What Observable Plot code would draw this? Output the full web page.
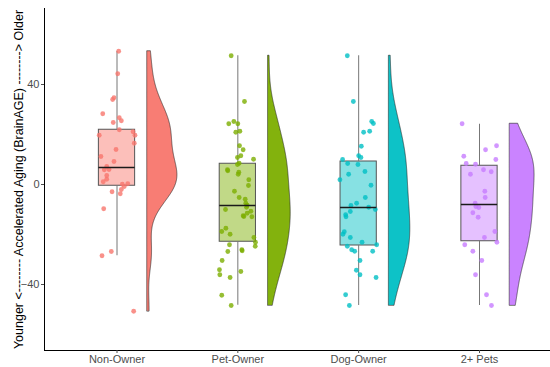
<!DOCTYPE html>
<html>
<head>
<meta charset="utf-8">
<script src="https://cdn.jsdelivr.net/npm/d3@7"></script>
<script src="https://cdn.jsdelivr.net/npm/@observablehq/plot@0.6"></script>
<style>
  html, body { margin: 0; padding: 0; background: #fff; }
  #chart svg { display: block; }
</style>
</head>
<body>
<div id="chart"></div>
<script>
const categories = ["Non-Owner", "Pet-Owner", "Dog-Owner", "2+ Pets"];
const colors = ["#F8766D", "#7CAE00", "#00BFC4", "#C77CFF"];
const yTicks = [-40, 0, 40];
const yLabel = "Younger <-------- Accelerated Aging (BrainAGE) --------> Older";

// BrainAGE values per group and horizontal jitter (category units)
const nonOwner = [53.3, 44.3, 34.7, 34.0, 28.3, 26.7, 25.5, 24.8, 21.9, 21.1, 19.7, 19.7, 16.5, 14.0, 11.2, 9.2, 7.2, 5.9, 6.0, 3.6, 2.1, 1.1, 0.1, 0.3, -0.8, -2.0, -2.9, -3.7, -9.7, -26.8, -28.5, -50.7];
const nonOwnerJitter = [0.014, 0.006, -0.025, -0.036, -0.118, 0.019, 0.036, -0.031, 0.019, 0.133, 0.149, -0.147, 0.143, -0.008, -0.133, -0.025, -0.085, -0.105, -0.066, -0.085, -0.085, -0.114, 0.044, 0.089, 0.060, 0.036, -0.041, 0.027, -0.110, -0.047, -0.124, 0.138];

const petOwner = [51.5, 33.2, 25.2, 24.3, 24.3, 20.9, 21.3, 15.5, 13.9, 11.5, 10.8, 10.1, 8.5, 8.0, 5.9, 5.5, 4.9, 4.1, 1.9, -0.4, -2.7, -5.2, -5.9, -7.5, -8.3, -9.1, -10.0, -10.7, -11.5, -12.5, -12.8, -12.9, -17.5, -18.8, -19.9, -21.2, -23.1, -24.7, -24.1, -26.1, -26.5, -26.8, -30.4, -34.1, -36.1, -34.8, -37.2, -44.3, -48.4];
const petOwnerJitter = [-0.055, 0.055, -0.033, -0.075, 0.000, -0.017, 0.017, 0.014, 0.044, 0.025, -0.003, 0.130, 0.011, -0.003, -0.086, -0.083, 0.008, 0.003, 0.091, 0.088, -0.028, 0.011, 0.061, 0.066, 0.077, 0.072, -0.102, 0.108, 0.077, 0.044, 0.050, 0.116, -0.099, -0.133, -0.064, 0.133, 0.146, 0.144, -0.069, 0.033, 0.036, -0.083, -0.130, -0.152, -0.149, 0.025, -0.064, -0.133, -0.055];

const dogOwner = [51.5, 33.2, 25.2, 24.4, 20.9, 21.3, 15.3, 11.5, 10.8, 10.0, 8.4, 8.0, 5.2, 4.1, 1.9, -0.3, -5.2, -7.5, -8.4, -9.1, -10.0, -10.8, -12.1, -12.9, -18.9, -19.9, -21.2, -23.1, -24.1, -24.7, -26.1, -26.7, -26.7, -30.4, -34.3, -36.1, -37.2, -44.1, -48.4];
const dogOwnerJitter = [-0.094, -0.044, 0.108, 0.122, 0.041, 0.091, 0.022, 0.000, 0.019, -0.133, -0.091, -0.006, 0.052, -0.083, -0.155, 0.102, 0.055, -0.017, -0.064, 0.083, 0.138, -0.069, -0.108, -0.105, -0.119, -0.130, -0.069, 0.028, 0.149, -0.094, -0.058, -0.033, 0.116, 0.011, -0.019, 0.011, 0.144, -0.108, -0.077];

const multiPet = [24.3, 15.5, 13.9, 11.3, 10.0, 8.4, 8.1, 5.9, 5.1, 4.1, -2.7, -5.2, -7.5, -8.8, -9.2, -11.3, -13.1, -18.8, -21.2, -23.1, -24.1, -26.7, -30.4, -36.1, -44.1, -48.4];
const multiPetJitter = [-0.144, 0.141, 0.050, -0.130, 0.135, -0.110, -0.033, 0.033, 0.097, -0.075, 0.044, 0.047, -0.036, -0.030, -0.006, -0.055, -0.011, 0.127, 0.041, 0.144, -0.122, -0.055, 0.019, -0.033, 0.058, 0.099];

// Box-plot summaries
const q1 = [-0.5, -22.9, -24.4, -22.7];
const median = [6.8, -8.4, -9.2, -8.0];
const q3 = [21.9, 8.3, 9.2, 7.5];
const whiskerLow = [-28.5, -48.3, -48.4, -48.4];
const whiskerHigh = [53.3, 51.5, 51.5, 24.1];

// ---- build tables ----
const groupValues = [nonOwner, petOwner, dogOwner, multiPet];
const groupJitter = [nonOwnerJitter, petOwnerJitter, dogOwnerJitter, multiPetJitter];

const points = [];
groupValues.forEach((vals, g) => vals.forEach((v, i) => points.push({g, x: g + 1 + groupJitter[g][i], y: v})));

const boxes = categories.map((c, g) => ({g, pos: g + 1, q1: q1[g], med: median[g], q3: q3[g], lo: whiskerLow[g], hi: whiskerHigh[g]}));

// flat violin: Gaussian KDE with R's bw.nrd0, trimmed to data range, area-scaled
function bwNrd0(v) {
  const sd = d3.deviation(v);
  const iqr = d3.quantile(v, 0.75) - d3.quantile(v, 0.25);
  const lo = Math.min(sd, iqr / 1.34);
  return 0.9 * lo * Math.pow(v.length, -0.2);
}
const violinRaw = groupValues.map((vals, g) => {
  const bw = bwNrd0(vals);
  const [mn, mx] = d3.extent(vals);
  const n = 512, out = [];
  for (let k = 0; k < n; k++) {
    const y = mn + (mx - mn) * k / (n - 1);
    let s = 0;
    for (const xi of vals) { const u = (y - xi) / bw; s += Math.exp(-0.5 * u * u); }
    out.push({g, y, d: s / (vals.length * bw * Math.sqrt(2 * Math.PI))});
  }
  return out;
});
const maxD = d3.max(violinRaw.flat(), d => d.d);
const nudge = 0.25, halfWidth = 0.25;
const violin = violinRaw.flat().map(d => ({g: d.g, y: d.y, x1: d.g + 1 + nudge, x2: d.g + 1 + nudge + halfWidth * d.d / maxD}));

const yMin = -66.4, yMax = 70.4;

const plot = Plot.plot({
  width: 550,
  height: 367,
  marginLeft: 44,
  marginRight: 0,
  marginTop: 8,
  marginBottom: 17,
  style: {fontFamily: "'Liberation Sans', Arial, sans-serif", fontSize: "11px", background: "#fff"},
  x: {domain: [0.4, 4.6], range: [44, 551.5]},
  y: {domain: [yMin, yMax], range: [350, 8]},
  color: {domain: [0, 1, 2, 3], range: colors},
  marks: [
    Plot.areaX(violin, {y: "y", x1: "x1", x2: "x2", z: "g", fill: d => d.g, fillOpacity: 0.95, stroke: "#222", strokeWidth: 0.6, curve: "linear"}),
    Plot.rect(boxes, {x1: d => d.pos - 0.15, x2: d => d.pos + 0.15, y1: "q1", y2: "q3", fill: d => d.g, fillOpacity: 0.47, stroke: "#555", strokeWidth: 1}),
    Plot.ruleX(boxes, {x: "pos", y1: "q3", y2: "hi", stroke: "#777", strokeWidth: 1}),
    Plot.ruleX(boxes, {x: "pos", y1: "lo", y2: "q1", stroke: "#777", strokeWidth: 1}),
    Plot.dot(points, {x: "x", y: "y", r: 2.4, fill: d => d.g, fillOpacity: 0.8, stroke: "none"}),
    Plot.ruleY(boxes, {x1: d => d.pos - 0.15, x2: d => d.pos + 0.15, y: "med", stroke: "#1a1a1a", strokeWidth: 1.6}),
    Plot.ruleX([0.4], {y1: yMin, y2: yMax, stroke: "#000", strokeWidth: 1}),
    Plot.ruleY([yMin], {x1: 0.4, x2: 4.6, stroke: "#000", strokeWidth: 1}),
    Plot.axisY({ticks: yTicks, tickSize: 3, tickPadding: 2, label: null, color: "#4D4D4D", fontSize: 11}),
    Plot.axisX({ticks: [1, 2, 3, 4], tickFormat: i => categories[i - 1], tickSize: 3, tickPadding: 2, label: null, color: "#4D4D4D", fontSize: 11}),
    Plot.text([yLabel], {frameAnchor: "left", textAnchor: "middle", rotate: -90, dx: -26, fontSize: 12.5, fill: "#000"})
  ]
});
document.getElementById("chart").appendChild(plot);
</script>
</body>
</html>
